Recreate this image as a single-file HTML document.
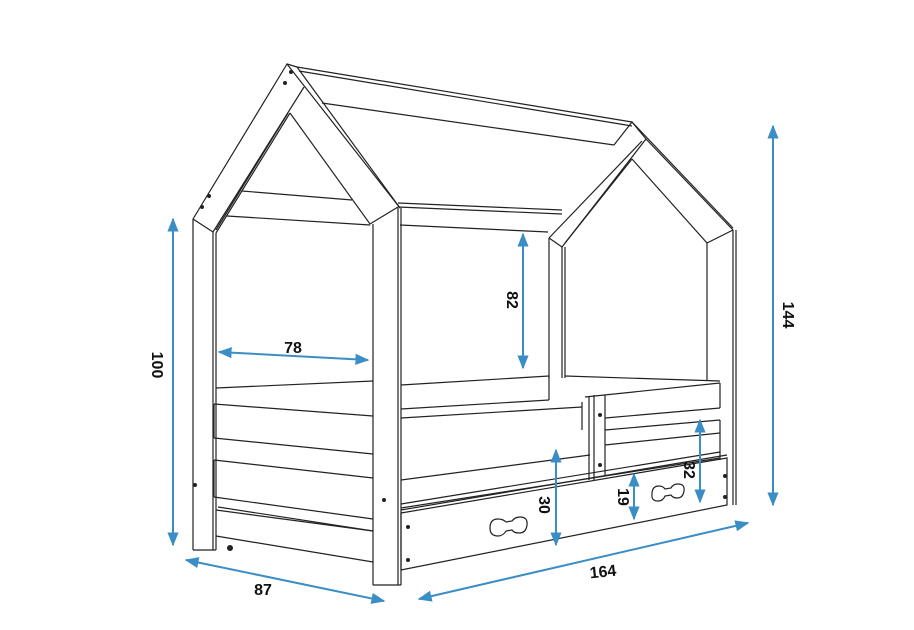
<!DOCTYPE html>
<html><head><meta charset="utf-8"><style>
html,body{margin:0;padding:0;background:#fff;}
svg{display:block}
text{font-family:"Liberation Sans",Arial,sans-serif;font-weight:bold;font-size:16px;fill:#111}
</style></head><body>
<svg width="914" height="630" viewBox="0 0 914 630" xmlns="http://www.w3.org/2000/svg">
<defs>
<marker id="ar" viewBox="0 0 10 10" refX="9" refY="5" markerWidth="7" markerHeight="7" orient="auto-start-reverse">
<path d="M0,1 L10,5 L0,9 z" fill="#3a8dc5"/></marker>
</defs>
<g stroke="#222" stroke-width="1.2" fill="none">
<line x1="297" y1="67" x2="632" y2="122"/>
<line x1="299" y1="71" x2="632" y2="126"/>
<line x1="322" y1="103" x2="614" y2="145"/>
<line x1="398" y1="207" x2="562" y2="214"/>
<line x1="398" y1="203" x2="562" y2="210"/>
<line x1="400" y1="225" x2="548" y2="232"/>
<line x1="242" y1="191" x2="352" y2="200"/>
<line x1="227" y1="216" x2="370" y2="225"/>
<polyline points="193,219 287,64 400,208"/>
<line x1="287" y1="64" x2="297" y2="67"/>
<line x1="297" y1="67" x2="400" y2="208"/>
<line x1="193" y1="219" x2="213" y2="232"/>
<line x1="213" y1="232" x2="304" y2="87"/>
<line x1="216" y1="233" x2="290" y2="113"/>
<polyline points="290,113 370,224 398,207"/>
<line x1="288" y1="113" x2="216" y2="230"/>
<line x1="193" y1="219" x2="193" y2="550"/>
<line x1="213" y1="232" x2="213" y2="550"/>
<line x1="216" y1="233" x2="216" y2="550"/>
<line x1="193" y1="550" x2="216" y2="550"/>
<line x1="373" y1="224" x2="373" y2="585"/>
<line x1="398" y1="208" x2="398" y2="585"/>
<line x1="401" y1="208" x2="401" y2="585"/>
<line x1="373" y1="585" x2="401" y2="585"/>
<polyline points="614,145 632,122 646,139 733,230"/>
<line x1="632" y1="122" x2="733" y2="228"/>
<line x1="646" y1="139" x2="562" y2="247"/>
<line x1="642" y1="141" x2="549" y2="238"/>
<line x1="632" y1="159" x2="565" y2="243"/>
<polyline points="632,159 707,243 733,230"/>
<line x1="549" y1="238" x2="562" y2="247"/>
<line x1="549" y1="238" x2="549" y2="378"/>
<line x1="562" y1="247" x2="562" y2="378"/>
<line x1="565" y1="247" x2="565" y2="378"/>
<line x1="707" y1="243" x2="707" y2="380"/>
<line x1="733" y1="230" x2="733" y2="505"/>
<line x1="736" y1="230" x2="736" y2="505"/>
<line x1="216" y1="388" x2="373" y2="381"/>
<line x1="214" y1="404" x2="373" y2="416"/>
<line x1="214" y1="438" x2="373" y2="454"/>
<line x1="214" y1="460" x2="373" y2="478"/>
<line x1="214" y1="497" x2="373" y2="519"/>
<line x1="218" y1="507" x2="373" y2="531"/>
<line x1="216" y1="510" x2="373" y2="531"/>
<line x1="216" y1="536" x2="373" y2="562"/>
<line x1="214" y1="404" x2="214" y2="438"/>
<line x1="214" y1="460" x2="214" y2="497"/>
<line x1="401" y1="385" x2="549" y2="376"/>
<line x1="401" y1="409" x2="549" y2="400"/>
<line x1="549" y1="376" x2="549" y2="400"/>
<line x1="565" y1="376" x2="720" y2="381"/>
<line x1="401" y1="418" x2="582" y2="407"/>
<line x1="401" y1="480" x2="590" y2="455"/>
<line x1="401" y1="504" x2="720" y2="452"/>
<line x1="401" y1="508" x2="720" y2="458"/>
<line x1="585" y1="397" x2="720" y2="383"/>
<line x1="605" y1="418" x2="720" y2="408"/>
<line x1="720" y1="383" x2="720" y2="408"/>
<line x1="605" y1="430" x2="720" y2="420"/>
<line x1="605" y1="445" x2="720" y2="433"/>
<line x1="720" y1="420" x2="720" y2="460"/>
<line x1="589" y1="397" x2="589" y2="480"/>
<line x1="594" y1="395" x2="594" y2="480"/>
<line x1="605" y1="395" x2="605" y2="475"/>
<line x1="582" y1="402" x2="582" y2="430"/>
<polygon points="401,513 727,458 727,505 401,570"/>
<line x1="401" y1="510" x2="727" y2="455"/>
</g>
<g fill="#222">
<circle cx="291" cy="72" r="2"/><circle cx="285" cy="83" r="2"/>
<circle cx="209" cy="196" r="2"/><circle cx="202" cy="207" r="2"/>
<circle cx="195" cy="485" r="2"/><circle cx="384" cy="500" r="2"/>
<circle cx="408" cy="527" r="2"/><circle cx="408" cy="560" r="2"/>
<circle cx="600" cy="415" r="2"/><circle cx="600" cy="465" r="2"/>
<circle cx="725" cy="476" r="2"/><circle cx="725" cy="497" r="2"/>
<circle cx="230" cy="548" r="3"/>
</g>
<g stroke="#222" stroke-width="1.2" fill="#fff">
<path d="M490,528 q0,-9 8,-9 q5,0 8,3 l6,-1 q3,-4 8,-4 q8,0 7,8 q-1,8 -8,8 q-5,0 -7,-3 l-6,1 q-3,5 -8,5 q-8,0 -8,-8z"/>
<path d="M652,494 q0,-8 7,-8 q4,0 6,3 l6,-1 q2,-4 7,-4 q7,0 6,7 q-1,7 -7,7 q-4,0 -6,-3 l-6,1 q-2,5 -7,5 q-7,0 -6,-7z"/>
</g>
<g stroke="#3a8dc5" stroke-width="2" fill="none" marker-start="url(#ar)" marker-end="url(#ar)">
<line x1="173" y1="219" x2="173" y2="545"/>
<line x1="219" y1="352" x2="368" y2="360"/>
<line x1="523" y1="234" x2="523" y2="368"/>
<line x1="773" y1="126" x2="773" y2="505"/>
<line x1="186" y1="560" x2="384" y2="601"/>
<line x1="419" y1="599" x2="748" y2="523"/>
<line x1="556" y1="450" x2="556" y2="545"/>
<line x1="634" y1="474" x2="634" y2="519"/>
<line x1="700" y1="420" x2="700" y2="502"/>
</g>
<text x="293" y="353" text-anchor="middle">78</text>
<text transform="translate(152,365) rotate(90)" text-anchor="middle">100</text>
<text transform="translate(507,300) rotate(90)" text-anchor="middle">82</text>
<text transform="translate(783,315) rotate(90)" text-anchor="middle">144</text>
<text transform="translate(539,505) rotate(90)" text-anchor="middle">30</text>
<text transform="translate(618,497) rotate(90)" text-anchor="middle">19</text>
<text transform="translate(684,470) rotate(90)" text-anchor="middle">32</text>
<text x="263" y="595" text-anchor="middle">87</text>
<text x="603" y="577" text-anchor="middle" transform="rotate(-6 603 572)">164</text>
</svg>
</body></html>
